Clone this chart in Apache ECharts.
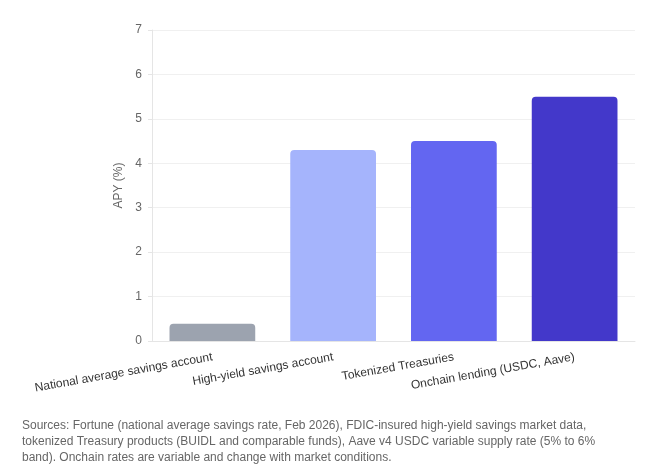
<!DOCTYPE html>
<html>
<head>
<meta charset="utf-8">
<script src="https://cdn.jsdelivr.net/npm/echarts@6/dist/echarts.min.js"></script>
<style>
  html, body { margin: 0; padding: 0; background: #fff; }
  #chart { width: 667px; height: 471px; }
</style>
</head>
<body>
<div id="chart"></div>
<script>
// data
var categories = ['National average savings account', 'High-yield savings account', 'Tokenized Treasuries', 'Onchain lending (USDC, Aave)'];
var apyValues = [0.39, 4.3, 4.5, 5.5];
var barColors = ['#9ca3af', '#a5b4fc', '#6366f1', '#4338ca'];
var yTicks = [0, 1, 2, 3, 4, 5, 6, 7];
var sourceNote = 'Sources: Fortune (national average savings rate, Feb 2026), FDIC-insured high-yield savings market data,\n' +
  'tokenized Treasury products (BUIDL and comparable funds), Aave v4 USDC variable supply rate (5% to 6%\n' +
  'band). Onchain rates are variable and change with market conditions.';

var myChart = echarts.init(document.getElementById('chart'));
myChart.setOption({
  animation: false,
  textStyle: { fontFamily: 'Liberation Sans, Arial, sans-serif' },
  title: {
    text: sourceNote,
    left: 17,
    top: 413,
    textStyle: { fontSize: 12, fontWeight: 'normal', color: '#666', lineHeight: 16 }
  },
  grid: { left: 152, right: 32, top: 30, bottom: 130, containLabel: false },
  xAxis: {
    type: 'category',
    data: categories,
    axisLine: { lineStyle: { color: '#e5e5e5' } },
    axisTick: { show: false },
    axisLabel: { rotate: 10, color: '#333', fontSize: 12, margin: 16, interval: 0 }
  },
  yAxis: {
    type: 'value',
    min: yTicks[0],
    max: yTicks[yTicks.length - 1],
    interval: 1,
    name: 'APY (%)',
    nameLocation: 'middle',
    nameGap: 27,
    nameTextStyle: { color: '#666', fontSize: 12 },
    axisLine: { show: true, lineStyle: { color: '#e5e5e5' } },
    axisTick: { show: true, length: 4, lineStyle: { color: '#e5e5e5' } },
    axisLabel: { color: '#666', fontSize: 12, margin: 10 },
    splitLine: { lineStyle: { color: '#f0f0f0' } }
  },
  series: [{
    type: 'bar',
    barCategoryGap: '29%',
    data: apyValues.map(function (v, i) {
      return { value: v, itemStyle: { color: barColors[i], borderRadius: [4, 4, 0, 0] } };
    })
  }]
});
window.onresize = function () {
  myChart.resize();
};
</script>
</body>
</html>
